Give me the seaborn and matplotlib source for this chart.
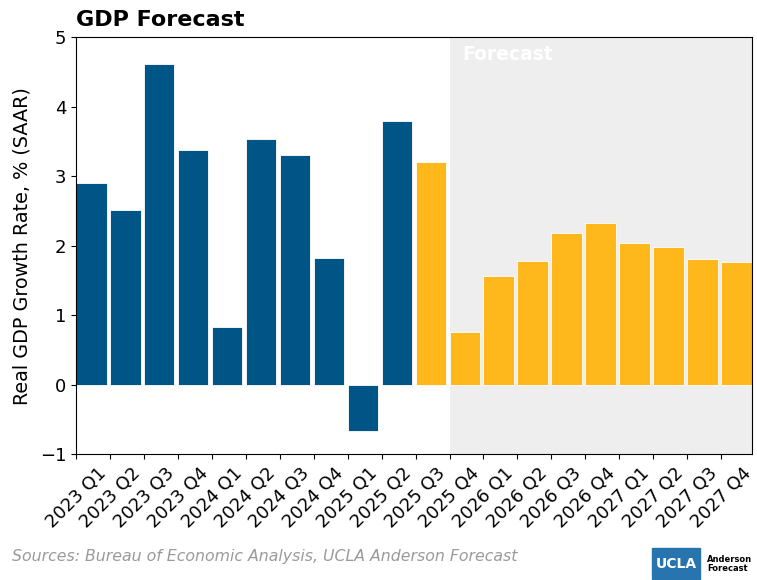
import matplotlib
matplotlib.use("Agg")
import matplotlib.pyplot as plt
import seaborn as sns
import pandas as pd

quarters = ["2023 Q1", "2023 Q2", "2023 Q3", "2023 Q4",
            "2024 Q1", "2024 Q2", "2024 Q3", "2024 Q4",
            "2025 Q1", "2025 Q2", "2025 Q3", "2025 Q4",
            "2026 Q1", "2026 Q2", "2026 Q3", "2026 Q4",
            "2027 Q1", "2027 Q2", "2027 Q3", "2027 Q4"]
growth = [2.90, 2.51, 4.62, 3.38,
          0.83, 3.54, 3.30, 1.83,
          -0.66, 3.79, 3.20, 0.76,
          1.56, 1.78, 2.19, 2.32,
          2.04, 1.98, 1.81, 1.76]
n_actual = 10
kind = ["Actual"] * n_actual + ["Forecast"] * (len(quarters) - n_actual)
forecast_start = "2025 Q4"

BLUE = "#005587"
GOLD = "#FFB81C"

df = pd.DataFrame({"quarter": quarters, "growth": growth, "kind": kind})

sns.set_style("ticks")
plt.rcParams["font.family"] = ["DejaVu Sans"]
plt.rcParams["text.color"] = "black"
plt.rcParams["axes.labelcolor"] = "black"
plt.rcParams["xtick.color"] = "black"
plt.rcParams["ytick.color"] = "black"

fig = plt.figure(figsize=(7.57, 5.8), dpi=100)
ax = fig.add_axes([0.1004, 0.217, 0.8926, 0.7187])

half = 0.45
idx_fc = quarters.index(forecast_start)
ax.axvspan(idx_fc - half, len(quarters) - 1 + half, color="#EEEEEE", zorder=0, lw=0)

sns.barplot(data=df, x="quarter", y="growth", hue="kind",
            palette={"Actual": BLUE, "Forecast": GOLD},
            dodge=False, width=0.9, legend=False, ax=ax,
            edgecolor="white", linewidth=0.6, saturation=1, zorder=2)

ax.set_xlim(-half, len(quarters) - 1 + half)
ax.set_ylim(-1, 5)
ax.set_xticks([i - half for i in range(len(quarters))])
ax.set_xticklabels(quarters, rotation=45, ha="center", fontsize=13)
ax.set_yticks(range(-1, 6))
ax.tick_params(axis="y", labelsize=13)
ax.set_xlabel("")
ax.set_ylabel("Real GDP Growth Rate, % (SAAR)", fontsize=13.8, labelpad=6)
for s in ax.spines.values():
    s.set_visible(True)
    s.set_color("black")

ax.text(idx_fc - half + 0.38, 4.75, "Forecast", color="white",
        fontsize=13.5, fontweight="bold", va="center", ha="left", zorder=3)

fig.text(0.1004, 0.965, "GDP Forecast", fontsize=16, fontweight="bold",
         ha="left", va="center")

fig.text(12 / 757, 1 - 556 / 580,
         "Sources: Bureau of Economic Analysis, UCLA Anderson Forecast",
         fontsize=11.3, style="italic", color="#9A9A9A", ha="left", va="center")

# logo
fig.patches.append(plt.Rectangle((652 / 757, 1 - 579 / 580), 48 / 757, 31 / 580,
                                 transform=fig.transFigure, color="#2774AE",
                                 zorder=5))
fig.text(676 / 757, 1 - 564 / 580, "UCLA", color="white", fontsize=10,
         fontweight="bold", ha="center", va="center", zorder=6)
fig.text(707 / 757, 1 - 564 / 580, "Anderson\nForecast", color="black",
         fontsize=6, fontweight="bold", ha="left", va="center",
         linespacing=1.1, zorder=6)

fig.savefig("out.png", dpi=100)
